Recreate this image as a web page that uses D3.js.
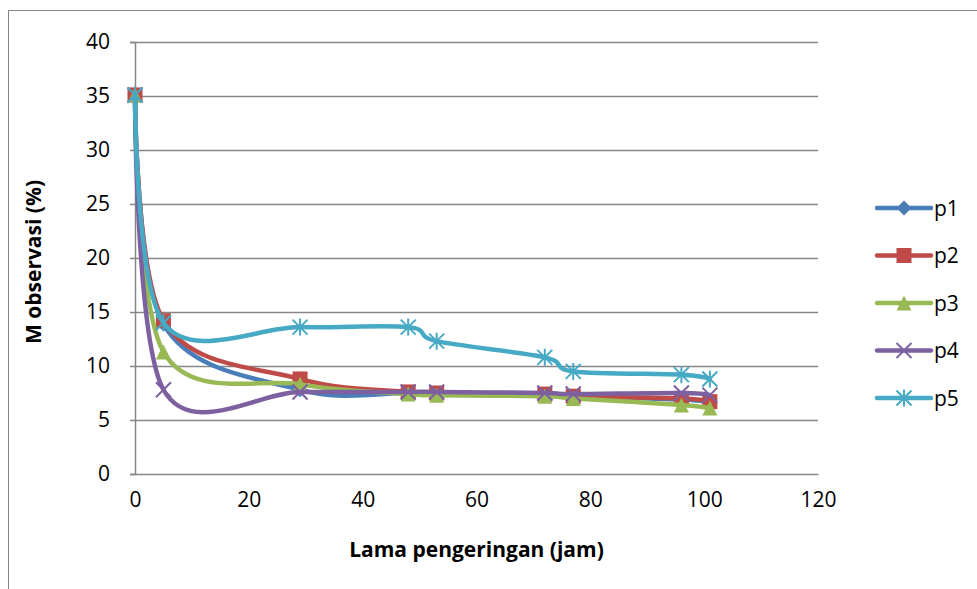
<!DOCTYPE html>
<html><head><meta charset="utf-8">
<script src="https://cdn.jsdelivr.net/npm/d3@7/dist/d3.min.js"></script>
<style>body{margin:0;background:#fff}svg{display:block}text{font-family:"Open Sans",Lato,sans-serif;fill:#000}</style>
</head><body><svg id="c" width="977" height="589"></svg>
<script>
const hours = [0, 5, 29, 48, 53, 72, 77, 96, 101];
const p1 = [35.1, 13.9, 7.8, 7.5, 7.4, 7.3, 7.2, 6.9, 6.6];
const p2 = [35.1, 14.2, 8.8, 7.6, 7.5, 7.4, 7.2, 7.0, 6.7];
const p3 = [35.1, 11.3, 8.3, 7.4, 7.3, 7.2, 7.0, 6.4, 6.1];
const p4 = [35.1, 7.8, 7.6, 7.6, 7.6, 7.5, 7.4, 7.5, 7.3];
const p5 = [35.1, 14.0, 13.6, 13.6, 12.3, 10.8, 9.5, 9.2, 8.8];
const seriesNames = ["p1", "p2", "p3", "p4", "p5"];
const xTicks = [0, 20, 40, 60, 80, 100, 120];
const yTicks = [0, 5, 10, 15, 20, 25, 30, 35, 40];
const xTitle = "Lama pengeringan (jam)";
const yTitle = "M observasi (%)";

const series = [
  {name: "p1", values: p1, color: "#4A7EBB", marker: "diamond"},
  {name: "p2", values: p2, color: "#BE4B48", marker: "square"},
  {name: "p3", values: p3, color: "#98B954", marker: "triangle"},
  {name: "p4", values: p4, color: "#7D60A0", marker: "x"},
  {name: "p5", values: p5, color: "#46AAC5", marker: "star"}
];

const svg = d3.select("#c");
const L = 135, R = 818, T = 42, B = 474;
const x = d3.scaleLinear().domain([0, 120]).range([L, R]);
const y = d3.scaleLinear().domain([0, 40]).range([B, T]);

// outer chart border
svg.append("rect").attr("x", 8.5).attr("y", 10.5).attr("width", 1000).attr("height", 1000)
  .attr("fill", "none").attr("stroke", "#868686").attr("stroke-width", 1);

// gridlines
svg.append("g").selectAll("line").data(yTicks.filter(d => d > 0)).join("line")
  .attr("x1", L).attr("x2", R).attr("y1", d => Math.round(y(d)) + 0.5).attr("y2", d => Math.round(y(d)) + 0.5)
  .attr("stroke", "#868686").attr("stroke-width", 1.5);

// y axis
const yAxis = svg.append("g").attr("transform", `translate(${L},0)`)
  .call(d3.axisLeft(y).tickValues(yTicks).tickSize(5).tickPadding(20).tickFormat(d3.format("d")));
yAxis.select(".domain").attr("stroke", "#868686").attr("stroke-width", 1.5);
yAxis.selectAll(".tick line").attr("stroke", "#868686").attr("stroke-width", 1.5);
yAxis.selectAll("text").style("font-size", "21px").attr("fill", "#000");

// x axis
const xAxis = svg.append("g").attr("transform", `translate(0,${B})`)
  .call(d3.axisBottom(x).tickValues(xTicks).tickSize(0).tickPadding(18).tickFormat(d3.format("d")));
xAxis.select(".domain").attr("stroke", "#868686").attr("stroke-width", 1.5);
xAxis.selectAll("text").style("font-size", "21px").attr("fill", "#000");

// titles
svg.append("text").attr("x", (L + R) / 2).attr("y", 557).attr("text-anchor", "middle")
  .style("font-size", "21px").style("font-weight", "bold").text(xTitle);
svg.append("text").attr("transform", `translate(41,${(T + B) / 2 + 4}) rotate(-90)`).attr("text-anchor", "middle")
  .style("font-size", "21px").style("font-weight", "bold").text(yTitle);

function drawMarker(g, type, color, cx, cy) {
  const s = 7.5;
  if (type === "diamond") {
    g.append("path").attr("d", `M${cx},${cy - s}L${cx + s},${cy}L${cx},${cy + s}L${cx - s},${cy}Z`).attr("fill", color);
  } else if (type === "square") {
    g.append("rect").attr("x", cx - s).attr("y", cy - s).attr("width", 2 * s).attr("height", 2 * s).attr("fill", color);
  } else if (type === "triangle") {
    g.append("path").attr("d", `M${cx},${cy - s}L${cx + s},${cy + s}L${cx - s},${cy + s}Z`).attr("fill", color);
  } else if (type === "x") {
    g.append("path").attr("d", `M${cx - s},${cy - s}L${cx + s},${cy + s}M${cx + s},${cy - s}L${cx - s},${cy + s}`)
      .attr("stroke", color).attr("stroke-width", 2).attr("fill", "none");
  } else if (type === "star") {
    g.append("path").attr("d", `M${cx - s},${cy - s}L${cx + s},${cy + s}M${cx + s},${cy - s}L${cx - s},${cy + s}M${cx},${cy - s - 1}L${cx},${cy + s + 1}`)
      .attr("stroke", color).attr("stroke-width", 2).attr("fill", "none");
  }
}

const line = d3.line().x(d => x(d[0])).y(d => y(d[1])).curve(d3.curveCardinal.tension(0));
const plot = svg.append("g");
series.forEach(s => {
  const pts = hours.map((h, i) => [h, s.values[i]]);
  const g = plot.append("g");
  g.append("path").attr("d", line(pts)).attr("fill", "none").attr("stroke", s.color)
    .attr("stroke-width", 4.5).attr("stroke-linejoin", "round").attr("stroke-linecap", "round");
  pts.forEach(p => drawMarker(g, s.marker, s.color, x(p[0]), y(p[1])));
});

// legend
const lg = svg.append("g");
series.forEach((s, i) => {
  const cy = 208 + i * 47.5;
  const g = lg.append("g");
  g.append("line").attr("x1", 877).attr("x2", 931).attr("y1", cy).attr("y2", cy)
    .attr("stroke", s.color).attr("stroke-width", 4.5).attr("stroke-linecap", "round");
  drawMarker(g, s.marker, s.color, 904, cy);
  g.append("text").attr("x", 934).attr("y", cy).attr("dy", "0.36em").style("font-size", "21px").text(seriesNames[i]);
});
</script></body></html>
